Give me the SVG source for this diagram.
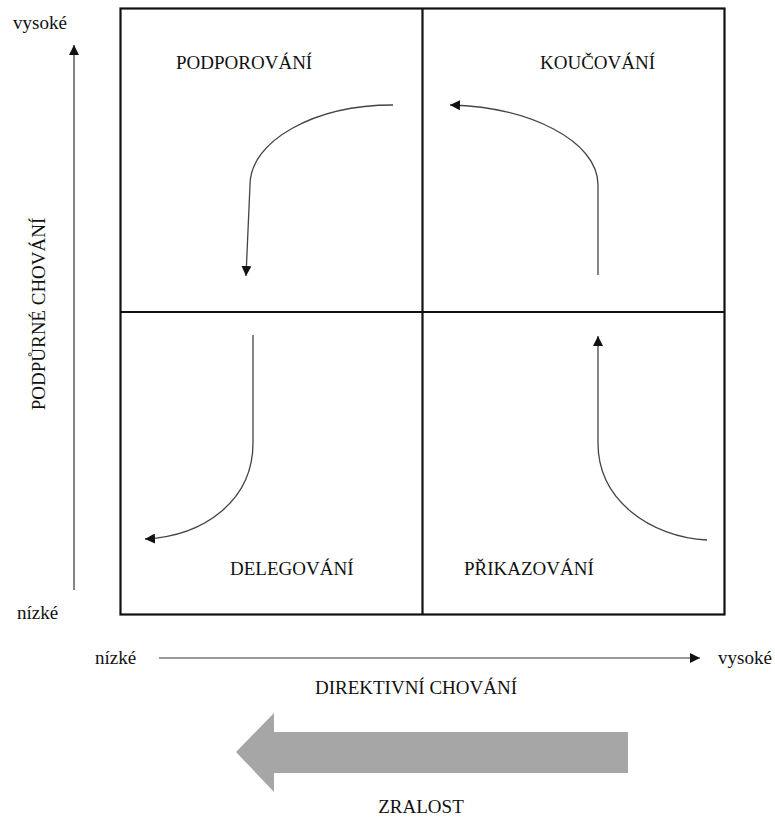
<svg xmlns="http://www.w3.org/2000/svg" width="775" height="823" viewBox="0 0 775 823">
<style>
text{font-family:"Liberation Serif","Times New Roman",serif;font-size:19px;fill:#111}
.frame{fill:none;stroke:#111;stroke-width:2.2}
.curve{fill:none;stroke:#444;stroke-width:1.3}
.axis{fill:none;stroke:#333;stroke-width:1.2}
</style>
<defs>
<marker id="ah" viewBox="0 0 10 10" refX="10" refY="5" markerWidth="10" markerHeight="10" markerUnits="userSpaceOnUse" orient="auto">
<path d="M0,0 L10,5 L0,10 Z" fill="#111"/>
</marker>
</defs>
<rect width="775" height="823" fill="#fff"/>
<g id="grid">
<rect class="frame" x="120.5" y="8.5" width="604" height="606"/>
<line class="frame" x1="422.5" y1="8.5" x2="422.5" y2="614.5"/>
<line class="frame" x1="120.5" y1="312" x2="724.5" y2="312"/>
</g>
<g id="podporovani"><text x="176" y="69">PODPOROVÁNÍ</text></g>
<g id="koucovani"><text x="540" y="69">KOUČOVÁNÍ</text></g>
<g id="delegovani"><text x="230" y="575">DELEGOVÁNÍ</text></g>
<g id="prikazovani"><text x="464" y="575">PŘIKAZOVÁNÍ</text></g>
<g id="axis-y">
<text x="13" y="29">vysoké</text>
<text x="17" y="619">nízké</text>
<text transform="translate(45,314) rotate(-90)" text-anchor="middle">PODPŮRNÉ CHOVÁNÍ</text>
</g>
<g id="axis-x">
<text x="95" y="664">nízké</text>
<text x="718" y="664">vysoké</text>
<text x="416" y="694" text-anchor="middle">DIREKTIVNÍ CHOVÁNÍ</text>
</g>
<g id="zralost">
<polygon points="236,752 274,713 274,732 628,732 628,773 274,773 274,792" fill="#a6a6a6"/>
<text x="421" y="813" text-anchor="middle">ZRALOST</text>
</g>
<g id="connectors">
<line class="axis" x1="74" y1="590" x2="74" y2="45" marker-end="url(#ah)"/>
<line class="axis" x1="159" y1="658" x2="700" y2="658" marker-end="url(#ah)"/>
<path class="curve" d="M393,105 C314,105 250,141 250,185 L246,276" marker-end="url(#ah)"/>
<path class="curve" d="M598,275 L598,185 C598,141 530,107 450,105" marker-end="url(#ah)"/>
<path class="curve" d="M253,335 L253,443 C253,500 205,536 145,539" marker-end="url(#ah)"/>
<path class="curve" d="M707,540 C650,537 598,500 598,443 L598,336" marker-end="url(#ah)"/>
</g>
</svg>
